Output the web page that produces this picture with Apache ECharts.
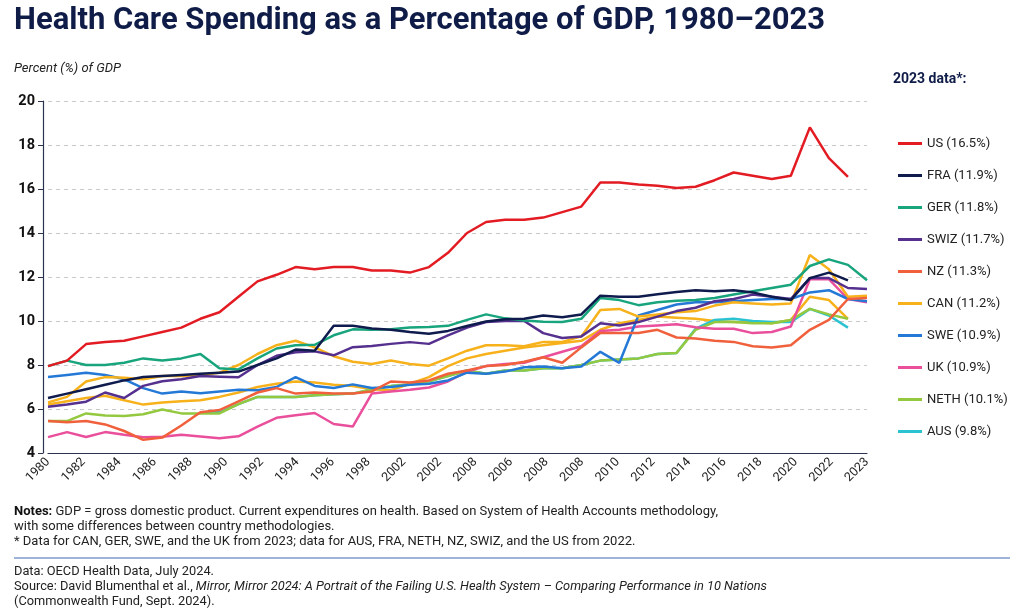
<!DOCTYPE html>
<html>
<head>
<meta charset="utf-8">
<script src="https://cdn.jsdelivr.net/npm/echarts@6/dist/echarts.min.js"></script>
<style>
  html, body { margin: 0; padding: 0; background: #fff; }
  #chart { width: 1024px; height: 611px; }
</style>
</head>
<body>
<div id="chart"></div>
<script>
var dom = document.getElementById("chart");
var myChart = echarts.init(dom);

// years plotted, one point per year
var years = [1980, 1981, 1982, 1983, 1984, 1985, 1986, 1987, 1988, 1989,
  1990, 1991, 1992, 1993, 1994, 1995, 1996, 1997, 1998, 1999,
  2000, 2001, 2002, 2003, 2004, 2005, 2006, 2007, 2008, 2009,
  2010, 2011, 2012, 2013, 2014, 2015, 2016, 2017, 2018, 2019,
  2020, 2021, 2022, 2023];

// tick labels as printed under the axis
var tickLabels = ['1980', '1982', '1984', '1986', '1988', '1990', '1992', '1994', '1996', '1998',
  '2002', '2002', '2008', '2006', '2008', '2008', '2010', '2012', '2014', '2016',
  '2018', '2020', '2022', '2023'];

var countries = ['US', 'FRA', 'GER', 'SWIZ', 'NZ', 'CAN', 'SWE', 'UK', 'NETH', 'AUS'];
var latest = ['16.5', '11.9', '11.8', '11.7', '11.3', '11.2', '10.9', '10.9', '10.1', '9.8'];
var colors = ['#e31b23', '#0f1b4c', '#18a47c', '#55308f', '#f0603c', '#f7b11b', '#2479d6', '#ea4f9c', '#93c83f', '#2bc3d1'];

var us = [7.95, 8.2, 8.95, 9.05, 9.1, 9.3, 9.5, 9.7, 10.1, 10.4,
  11.1, 11.8, 12.1, 12.45, 12.35, 12.45, 12.45, 12.3, 12.3, 12.2,
  12.45, 13.1, 14.0, 14.5, 14.6, 14.6, 14.7, 14.95, 15.2, 16.3,
  16.3, 16.2, 16.15, 16.05, 16.1, 16.4, 16.75, 16.6, 16.45, 16.6,
  18.8, 17.4, 16.55, null];
var fra = [6.5, 6.7, 6.9, 7.1, 7.3, 7.45, 7.5, 7.55, 7.6, 7.65,
  7.7, 8.0, 8.3, 8.7, 8.65, 9.78, 9.78, 9.66, 9.6, 9.5,
  9.42, 9.55, 9.77, 9.98, 10.08, 10.1, 10.25, 10.17, 10.3, 11.15,
  11.1, 11.1, 11.22, 11.32, 11.4, 11.35, 11.4, 11.3, 11.1, 10.95,
  11.95, 12.2, 11.85, null];
var ger = [7.95, 8.2, 8.0, 8.0, 8.1, 8.3, 8.2, 8.3, 8.5, 7.85,
  7.8, 8.3, 8.75, 8.9, 8.92, 9.35, 9.62, 9.6, 9.63, 9.7,
  9.73, 9.78, 10.05, 10.3, 10.12, 10.02, 9.97, 9.95, 10.1, 11.05,
  10.95, 10.72, 10.85, 10.92, 10.95, 11.05, 11.2, 11.35, 11.5, 11.65,
  12.5, 12.8, 12.55, 11.85];
var swiz = [6.1, 6.2, 6.33, 6.75, 6.5, 7.05, 7.26, 7.35, 7.5, 7.47,
  7.44, 8.0, 8.42, 8.58, 8.62, 8.44, 8.81, 8.86, 8.96, 9.04,
  8.96, 9.35, 9.7, 9.95, 10.0, 10.0, 9.45, 9.23, 9.3, 9.9,
  9.8, 9.95, 10.2, 10.45, 10.6, 10.9, 11.0, 11.2, 11.1, 11.0,
  11.95, 11.95, 11.5, 11.45];
var nz = [5.45, 5.4, 5.45, 5.3, 5.0, 4.6, 4.7, 5.25, 5.85, 5.95,
  6.35, 6.75, 6.95, 6.7, 6.75, 6.7, 6.7, 6.8, 7.25, 7.2,
  7.3, 7.6, 7.75, 7.95, 8.0, 8.15, 8.35, 8.1, 8.8, 9.45,
  9.45, 9.45, 9.6, 9.25, 9.2, 9.1, 9.05, 8.85, 8.8, 8.9,
  9.6, 10.05, 11.0, 11.05];
var can = [6.3, 6.55, 7.25, 7.45, 7.42, 7.35, 7.5, 7.5, 7.55, 7.65,
  8.0, 8.5, 8.9, 9.1, 8.8, 8.4, 8.15, 8.05, 8.2, 8.05,
  7.97, 8.3, 8.65, 8.9, 8.9, 8.85, 9.05, 9.05, 9.3, 10.5,
  10.55, 10.2, 10.3, 10.4, 10.45, 10.7, 10.85, 10.8, 10.75, 10.8,
  13.0, 12.35, 11.1, 11.15];
var swe = [7.45, 7.55, 7.65, 7.55, 7.35, 6.95, 6.7, 6.8, 6.72, 6.8,
  6.88, 6.85, 7.0, 7.45, 7.05, 6.95, 7.12, 6.95, 7.0, 7.1,
  7.15, 7.3, 7.65, 7.6, 7.7, 7.9, 7.93, 7.85, 7.93, 8.6,
  8.1, 10.25, 10.5, 10.75, 10.85, 10.85, 10.9, 10.95, 11.0, 11.0,
  11.3, 11.4, 11.0, 10.9];
var uk = [4.72, 4.95, 4.73, 4.95, 4.83, 4.72, 4.74, 4.83, 4.75, 4.67,
  4.76, 5.2, 5.6, 5.72, 5.82, 5.32, 5.2, 6.7, 6.8, 6.88,
  6.98, 7.25, 7.7, 7.95, 8.05, 8.1, 8.35, 8.6, 8.85, 9.55,
  9.6, 9.75, 9.8, 9.85, 9.72, 9.65, 9.65, 9.45, 9.5, 9.75,
  11.9, 11.9, 11.0, 10.85];
var neth = [5.45, 5.45, 5.8, 5.7, 5.68, 5.76, 5.98, 5.8, 5.8, 5.8,
  6.22, 6.55, 6.55, 6.55, 6.62, 6.67, 6.7, 6.89, 7.04, 7.11,
  7.26, 7.5, 7.75, 7.6, 7.75, 7.75, 7.85, 7.85, 8.0, 8.2,
  8.25, 8.3, 8.5, 8.55, 9.6, 9.95, 9.95, 9.9, 9.9, 10.05,
  10.55, 10.3, 10.1, null];
var aus = [null, null, null, null, null, null, null, null, 5.85, 5.85,
  6.22, 6.55, 6.55, 6.55, 6.62, 6.67, 6.7, 6.89, 7.04, 7.11,
  7.26, 7.5, 7.75, 7.6, 7.75, 7.75, 7.85, 7.85, 8.0, 8.2,
  8.25, 8.3, 8.5, 8.55, 9.65, 10.05, 10.1, 10.0, 9.95, 9.95,
  10.55, 10.25, 9.7, null];
// second amber trace drawn in the picture (not in the legend)
var canTrace = [6.2, 6.35, 6.5, 6.6, 6.4, 6.2, 6.3, 6.35, 6.4, 6.55,
  6.75, 7.0, 7.15, 7.25, 7.2, 7.1, 7.05, 6.9, 6.85, 7.15,
  7.45, 7.95, 8.3, 8.5, 8.65, 8.8, 8.9, 9.0, 9.1, 9.6,
  9.9, 10.05, 10.2, 10.15, 10.1, 10.0, 9.95, 9.95, 9.9, 10.05,
  11.1, 10.95, 10.1, null];

var values = [us, fra, ger, swiz, nz, can, swe, uk, neth, aus];
var names = countries.map(function (c, i) { return c + ' (' + latest[i] + '%)'; });

var FONT = 'Roboto, "Noto Sans", sans-serif';

var series = [];
// draw bottom-most first, US last so it sits on top
series.push({
    name: 'CAN trace', type: 'line', data: canTrace, showSymbol: false,
    lineStyle: { width: 2.5, color: colors[5] }, itemStyle: { color: colors[5] }
});
for (var k = values.length - 1; k >= 0; k--) {
    series.push({
        name: names[k], type: 'line', data: values[k], showSymbol: false,
        connectNulls: false,
        lineStyle: { width: 2.5, color: colors[k] },
        itemStyle: { color: colors[k] }
    });
}

var option = {
    animation: false,
    backgroundColor: '#fff',
    textStyle: { fontFamily: FONT },
    title: [
        {
            text: 'Health Care Spending as a Percentage of GDP, 1980–2023',
            left: 14, top: 6, padding: 0,
            textStyle: { fontFamily: FONT, fontSize: 31, fontWeight: 'bold', color: '#0f1c48' }
        },
        {
            text: 'Percent (%) of GDP',
            left: 14, top: 62, padding: 0,
            textStyle: { fontFamily: FONT, fontSize: 13, fontStyle: 'italic', fontWeight: 'normal', color: '#222' }
        },
        {
            text: '2023 data*:',
            left: 893, top: 72, padding: 0,
            textStyle: { fontFamily: FONT, fontSize: 14, fontWeight: 'bold', color: '#0f1c48' }
        }
    ],
    legend: {
        data: names,
        orient: 'vertical',
        left: 893, top: 131,
        icon: 'rect',
        itemWidth: 24, itemHeight: 3,
        itemGap: 17,
        selectedMode: false,
        textStyle: { fontFamily: FONT, fontSize: 13, color: '#222', lineHeight: 15 }
    },
    grid: { left: 48, right: 157, top: 101, bottom: 158 },
    xAxis: [
        {
            type: 'category', data: years, boundaryGap: false,
            axisLine: { lineStyle: { color: '#2b3350', width: 1.2 } },
            axisTick: { show: false }, axisLabel: { show: false }, splitLine: { show: false }
        },
        {
            type: 'category', data: tickLabels, boundaryGap: false, position: 'bottom',
            axisLine: { show: false }, axisTick: { show: false }, splitLine: { show: false },
            axisLabel: { interval: 0, rotate: 45, margin: 7, fontSize: 12.5, color: '#222', fontFamily: FONT }
        }
    ],
    yAxis: {
        type: 'value', min: 4, max: 20, interval: 2, offset: 5,
        axisLine: { show: true, lineStyle: { color: '#2b3350', width: 1.2 } },
        axisTick: { show: true, length: 5, lineStyle: { color: '#2b3350' } },
        axisLabel: { fontSize: 14.5, fontWeight: 'bold', color: '#111', margin: 8, fontFamily: FONT },
        splitLine: { lineStyle: { type: [4, 4], color: '#c9c9c9' } }
    },
    graphic: [
        {
            type: 'text', left: 14, top: 505,
            style: {
                text: '{b|Notes:} GDP = gross domestic product. Current expenditures on health. Based on System of Health Accounts methodology,',
                font: '13px ' + FONT, fill: '#222',
                rich: { b: { fontWeight: 'bold', fontSize: 13, fontFamily: FONT, fill: '#111' } }
            }
        },
        {
            type: 'text', left: 14, top: 520,
            style: { text: 'with some differences between country methodologies.', font: '13px ' + FONT, fill: '#222' }
        },
        {
            type: 'text', left: 14, top: 535,
            style: { text: '* Data for CAN, GER, SWE, and the UK from 2023; data for AUS, FRA, NETH, NZ, SWIZ, and the US from 2022.', font: '13px ' + FONT, fill: '#222' }
        },
        {
            type: 'line', shape: { x1: 14, y1: 558, x2: 1010, y2: 558 },
            style: { stroke: '#3d68b3', lineWidth: 1.2 }
        },
        {
            type: 'text', left: 14, top: 565,
            style: { text: 'Data: OECD Health Data, July 2024.', font: '12.8px ' + FONT, fill: '#222' }
        },
        {
            type: 'text', left: 14, top: 580,
            style: {
                text: 'Source: David Blumenthal et al., {i|Mirror, Mirror 2024: A Portrait of the Failing U.S. Health System – Comparing Performance in 10 Nations}',
                font: '12.8px ' + FONT, fill: '#222',
                rich: { i: { fontStyle: 'italic', fontSize: 12.8, fontFamily: FONT, fill: '#222' } }
            }
        },
        {
            type: 'text', left: 14, top: 595,
            style: { text: '(Commonwealth Fund, Sept. 2024).', font: '12.8px ' + FONT, fill: '#222' }
        }
    ],
    series: series
};

if (option && typeof option === "object") {
    myChart.setOption(option, true);
}
</script>
</body>
</html>
